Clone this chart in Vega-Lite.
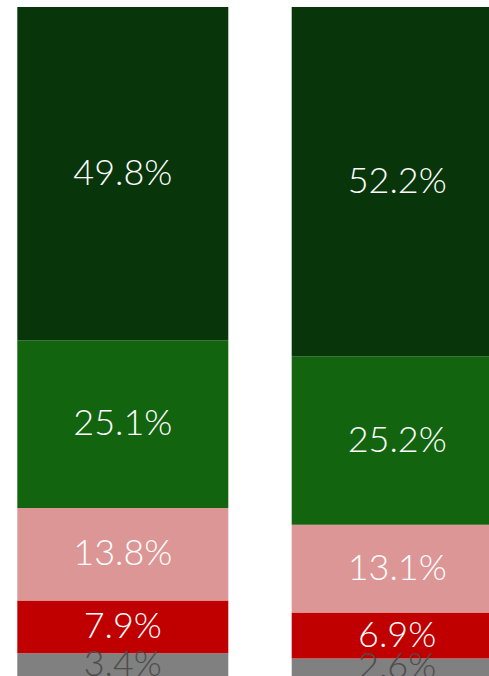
{
  "$schema": "https://vega.github.io/schema/vega-lite/v6.json",
  "autosize": {"type": "none"},
  "width": 489,
  "height": 669,
  "padding": {"top": 7, "left": 0, "right": 0, "bottom": 0},
  "background": "white",
  "config": {"view": {"stroke": null}},
  "data": {
    "values": [
      {"bar": "A", "cat": "Other", "ord": 1, "value": 3.4},
      {"bar": "A", "cat": "Red", "ord": 2, "value": 7.9},
      {"bar": "A", "cat": "Pink", "ord": 3, "value": 13.8},
      {"bar": "A", "cat": "Green", "ord": 4, "value": 25.1},
      {"bar": "A", "cat": "DarkGreen", "ord": 5, "value": 49.8},
      {"bar": "B", "cat": "Other", "ord": 1, "value": 2.6},
      {"bar": "B", "cat": "Red", "ord": 2, "value": 6.9},
      {"bar": "B", "cat": "Pink", "ord": 3, "value": 13.1},
      {"bar": "B", "cat": "Green", "ord": 4, "value": 25.2},
      {"bar": "B", "cat": "DarkGreen", "ord": 5, "value": 52.2}
    ]
  },
  "transform": [
    {"stack": "value", "groupby": ["bar"], "sort": [{"field": "ord", "order": "ascending"}], "as": ["y0", "y1"]},
    {"calculate": "(datum.y0 + datum.y1) / 2", "as": "ymid"},
    {"calculate": "format(datum.value, '.1f') + '%'", "as": "label"}
  ],
  "encoding": {
    "x": {"field": "bar", "type": "nominal", "axis": null,
      "scale": {"range": [17.3, 502.7], "paddingInner": 0.231, "paddingOuter": 0}}
  },
  "layer": [
    {
      "mark": {"type": "bar"},
      "encoding": {
        "y": {"field": "y0", "type": "quantitative", "axis": null, "scale": {"domain": [0, 100], "nice": false}},
        "y2": {"field": "y1"},
        "color": {"field": "cat", "type": "nominal", "legend": null,
          "scale": {"domain": ["Other", "Red", "Pink", "Green", "DarkGreen"],
                    "range": ["#808080", "#c00000", "#dc9696", "#12640f", "#08360a"]}}
      }
    },
    {
      "mark": {"type": "text", "font": "Lato", "fontWeight": 300, "fontSize": 36, "baseline": "middle", "align": "center"},
      "encoding": {
        "y": {"field": "ymid", "type": "quantitative"},
        "text": {"field": "label", "type": "nominal"},
        "color": {"condition": {"test": "datum.cat === 'Other'", "value": "#4d4d4d"}, "value": "white"}
      }
    }
  ]
}
